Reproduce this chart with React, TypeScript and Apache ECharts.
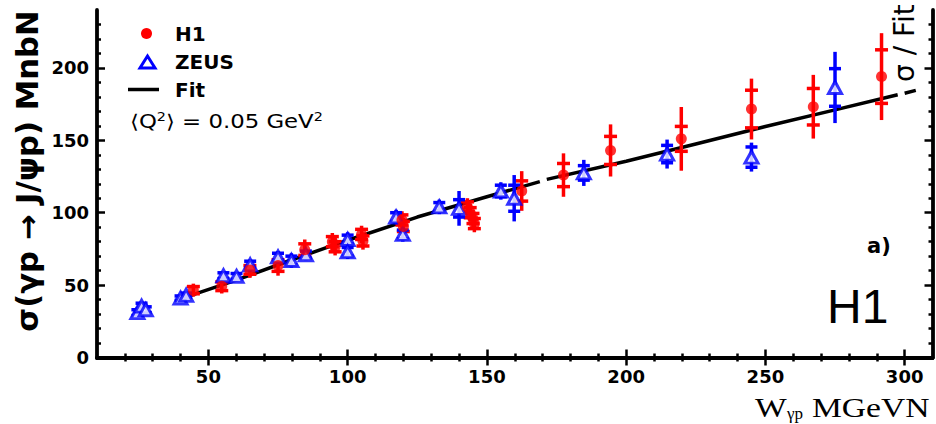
import React, { useEffect, useRef } from 'react';
import * as echarts from 'echarts';

// H1 measurements: W (GeV), sigma (nb), total error, statistical error
const H1_W = [44.6, 54.8, 64.9, 75, 84.6, 94.5, 95.5, 105, 105.5, 119.5, 120, 143, 144, 145, 145.5, 162.5, 177.5, 194.4, 219.8, 245, 267.2, 291.7];
const H1_SIGMA = [46.5, 49.2, 60.5, 63.5, 74.5, 80, 76.5, 85, 80.5, 95, 90.5, 104, 100, 96, 92.5, 115, 126, 143, 151, 171.6, 173.2, 194];
const H1_TOT = [4.5, 5, 5.5, 7, 7, 6, 6, 6, 6, 6, 6, 6, 6, 6, 6, 13.7, 15, 18, 22, 21, 22, 30];
const H1_STAT = [2.5, 3, 3, 4, 4, 3.5, 3.5, 3.5, 3.5, 3.5, 3.5, 3.5, 3.5, 3.5, 3.5, 7, 8, 9.7, 8.6, 13, 12.6, 18.5];

// ZEUS measurements
const ZEUS_W = [24.5, 26, 27.5, 40, 42, 55.4, 60.1, 65, 75, 79.8, 85, 100, 100, 117.4, 119.8, 132.9, 140, 155, 159.8, 184.8, 214.7, 245, 275];
const ZEUS_SIGMA = [31, 35.5, 33, 41, 43, 56.5, 56, 64, 69.5, 67, 71, 81.5, 73, 97, 85, 104, 103, 115, 110, 127.5, 140.5, 138.4, 186.5];
const ZEUS_TOT = [3, 3, 3, 2, 2, 3, 3, 3.5, 4, 5, 4, 5, 5, 5, 5, 5, 12, 6, 16, 9, 10, 10, 24.6];
const ZEUS_STAT = [2, 2, 2, 1.5, 1.5, 2, 2, 2.5, 2.5, 3, 2.5, 3, 3, 3, 3, 3, 6, 4, 9, 5, 6, 7, 13];

// Fit curve (null = gap in the drawn line)
const FIT_W = [40, 60, 80, 100, 125, 150, 169, 170, 171.5, 200, 225, 250, 275, 297.5, 298.5, 300, 304];
const FIT_SIGMA = [40.5, 53.5, 67.5, 81, 97, 111, 121.5, null, 123, 135.5, 147.5, 159.5, 171, 181.5, null, 182.5, 184.5];

// Axis ticks
const X_MAJOR = [50, 100, 150, 200, 250, 300];
const X_MINOR = [20, 30, 40, 60, 70, 80, 90, 110, 120, 130, 140, 160, 170, 180, 190, 210, 220, 230, 240, 260, 270, 280, 290];
const Y_MAJOR = [0, 50, 100, 150, 200];
const Y_MINOR = [10, 20, 30, 40, 60, 70, 80, 90, 110, 120, 130, 140, 160, 170, 180, 190, 210, 220, 230];

const RED = '#ff0000';
const BLUE = '#0000ff';

function errorBars(color: string, half: number) {
  return (params: any, api: any) => {
    const x = api.value(0);
    const y = api.value(1);
    const tot = api.value(2);
    const stat = api.value(3);
    const top = api.coord([x, y + tot]);
    const bot = api.coord([x, y - tot]);
    const s1 = api.coord([x, y + stat]);
    const s2 = api.coord([x, y - stat]);
    const style = { stroke: color, lineWidth: 3.5 };
    return {
      type: 'group',
      children: [
        { type: 'line', shape: { x1: top[0], y1: top[1], x2: bot[0], y2: bot[1] }, style },
        { type: 'line', shape: { x1: s1[0] - half, y1: s1[1], x2: s1[0] + half, y2: s1[1] }, style },
        { type: 'line', shape: { x1: s2[0] - half, y1: s2[1], x2: s2[0] + half, y2: s2[1] }, style },
      ],
    };
  };
}

export default function App() {
  const ref = useRef<HTMLDivElement>(null);
  useEffect(() => {
    if (!ref.current) return;
    const chart = echarts.init(ref.current, null, { renderer: 'svg' });
    const tickFont = { fontFamily: 'DejaVu Sans', fontWeight: 'bold', fontSize: 18, color: '#000' };
    const axisBase = { min: 10, max: 310, type: 'value', splitLine: { show: false } };
    const yBase = { min: 0, max: 240, type: 'value', splitLine: { show: false } };
    const lineStyle = { color: '#000', width: 3.8 };
    const h1 = H1_W.map((w, i) => [w, H1_SIGMA[i], H1_TOT[i], H1_STAT[i]]);
    const zeus = ZEUS_W.map((w, i) => [w, ZEUS_SIGMA[i], ZEUS_TOT[i], ZEUS_STAT[i]]);
    const fit = FIT_W.map((w, i) => [w, FIT_SIGMA[i] === null ? '-' : FIT_SIGMA[i]]);

    chart.setOption({
      animation: false,
      backgroundColor: '#fff',
      grid: { left: 97, right: 3.5, top: 10, bottom: 66.5 },
      xAxis: [
        {
          ...axisBase, position: 'bottom',
          axisLine: { show: true, lineStyle },
          axisTick: { show: true, inside: true, length: 8, customValues: X_MAJOR, lineStyle: { color: '#000', width: 2.5 } },
          axisLabel: { show: true, customValues: X_MAJOR, margin: 10, lineHeight: 18, ...tickFont },
        },
        {
          ...axisBase, position: 'bottom',
          axisLine: { show: false },
          axisTick: { show: true, inside: true, length: 4, customValues: X_MINOR, lineStyle: { color: '#000', width: 2.5 } },
          axisLabel: { show: false },
        },
        {
          ...axisBase, position: 'top',
          axisLine: { show: true, lineStyle },
          axisTick: { show: true, inside: true, length: 8, customValues: X_MAJOR, lineStyle: { color: '#000', width: 2.5 } },
          axisLabel: { show: false },
        },
        {
          ...axisBase, position: 'top',
          axisLine: { show: false },
          axisTick: { show: true, inside: true, length: 4, customValues: X_MINOR, lineStyle: { color: '#000', width: 2.5 } },
          axisLabel: { show: false },
        },
      ],
      yAxis: [
        {
          ...yBase, position: 'left',
          axisLine: { show: true, lineStyle },
          axisTick: { show: true, inside: true, length: 8, customValues: Y_MAJOR, lineStyle: { color: '#000', width: 2.5 } },
          axisLabel: { show: true, customValues: Y_MAJOR, margin: 8, ...tickFont },
        },
        {
          ...yBase, position: 'left',
          axisLine: { show: false },
          axisTick: { show: true, inside: true, length: 4, customValues: Y_MINOR, lineStyle: { color: '#000', width: 2.5 } },
          axisLabel: { show: false },
        },
        {
          ...yBase, position: 'right',
          axisLine: { show: true, lineStyle },
          axisTick: { show: true, inside: true, length: 8, customValues: Y_MAJOR, lineStyle: { color: '#000', width: 2.5 } },
          axisLabel: { show: false },
        },
        {
          ...yBase, position: 'right',
          axisLine: { show: false },
          axisTick: { show: true, inside: true, length: 4, customValues: Y_MINOR, lineStyle: { color: '#000', width: 2.5 } },
          axisLabel: { show: false },
        },
      ],
      series: [
        {
          name: 'Fit', type: 'line', data: fit, showSymbol: false, symbol: 'none', connectNulls: false,
          lineStyle: { color: '#000', width: 3.5 }, z: 2,
        },
        {
          name: 'H1 errors', type: 'custom', data: h1, renderItem: errorBars(RED, 6.5), z: 3,
          encode: { x: 0, y: 1 },
        },
        {
          name: 'ZEUS errors', type: 'custom', data: zeus, renderItem: errorBars(BLUE, 6), z: 3,
          encode: { x: 0, y: 1 },
        },
        {
          name: 'ZEUS', type: 'scatter', data: zeus.map((d) => [d[0], d[1]]), symbol: 'triangle', symbolSize: [13, 12],
          itemStyle: { color: '#fff', borderColor: BLUE, borderWidth: 3 }, z: 4,
        },
        {
          name: 'H1', type: 'scatter', data: h1.map((d) => [d[0], d[1]]), symbol: 'circle', symbolSize: 11,
          itemStyle: { color: RED }, z: 5,
        },
      ],
      graphic: [
        // legend
        { type: 'circle', shape: { cx: 146.5, cy: 33.5, r: 5.5 }, style: { fill: RED } },
        { type: 'text', x: 175, y: 33.5, style: { text: 'H1', fontFamily: 'DejaVu Sans', fontWeight: 'bold', fontSize: 20, fill: '#000', verticalAlign: 'middle' } },
        { type: 'polygon', shape: { points: [[147.5, 56], [140, 68], [155, 68]] }, style: { fill: '#fff', stroke: BLUE, lineWidth: 3 } },
        { type: 'text', x: 175, y: 62, style: { text: 'ZEUS', fontFamily: 'DejaVu Sans', fontWeight: 'bold', fontSize: 20, fill: '#000', verticalAlign: 'middle' } },
        { type: 'line', shape: { x1: 128, y1: 89.5, x2: 159, y2: 89.5 }, style: { stroke: '#000', lineWidth: 3.5 } },
        { type: 'text', x: 175, y: 90, style: { text: 'Fit', fontFamily: 'DejaVu Sans', fontWeight: 'bold', fontSize: 20, fill: '#000', verticalAlign: 'middle' } },
        {
          type: 'text', x: 130, y: 122, scaleX: 1.2,
          style: {
            text: '⟨Q{sup|2}⟩ = 0.05 GeV{sup|2}', fontFamily: 'DejaVu Sans', fontSize: 19, fill: '#000', verticalAlign: 'middle',
            rich: { sup: { fontFamily: 'DejaVu Sans', fontSize: 12, verticalAlign: 'top', padding: [0, 0, 10, 0] } },
          },
        },
        // y-axis title
        {
          type: 'text', x: 28, y: 171, rotation: Math.PI / 2, scaleX: 1.18, scaleY: 1.15,
          style: { text: 'σ(γp → J/ψp) MnbN', fontFamily: 'DejaVu Sans', fontWeight: 'bold', fontSize: 26, fill: '#000', align: 'center', verticalAlign: 'middle' },
        },
        // x-axis title
        { type: 'text', x: 755, y: 407, scaleX: 1.2, style: { text: 'W', fontFamily: 'Liberation Serif', fontSize: 28, fill: '#000', verticalAlign: 'middle' } },
        { type: 'text', x: 787, y: 413, style: { text: 'γp', fontFamily: 'Liberation Serif', fontSize: 17, fill: '#000', verticalAlign: 'middle' } },
        { type: 'text', x: 812, y: 407, scaleX: 1.2, style: { text: 'MGeVN', fontFamily: 'Liberation Serif', fontSize: 28, fill: '#000', verticalAlign: 'middle' } },
        // annotations
        { type: 'text', x: 867, y: 246, style: { text: 'a)', fontFamily: 'DejaVu Sans', fontWeight: 'bold', fontSize: 21, fill: '#000', verticalAlign: 'middle' } },
        { type: 'text', x: 827, y: 306, style: { text: 'H1', fontFamily: 'Liberation Sans', fontSize: 48, fill: '#000', verticalAlign: 'middle' } },
        {
          type: 'text', x: 904, y: 82, rotation: Math.PI / 2,
          style: { text: 'σ / Fit', fontFamily: 'DejaVu Sans', fontSize: 28, fill: '#000', align: 'left', verticalAlign: 'middle' },
        },
      ],
    });
    return () => chart.dispose();
  }, []);
  return <div ref={ref} style={{ position: 'fixed', left: 0, top: 0, width: 936, height: 424 }} />;
}
